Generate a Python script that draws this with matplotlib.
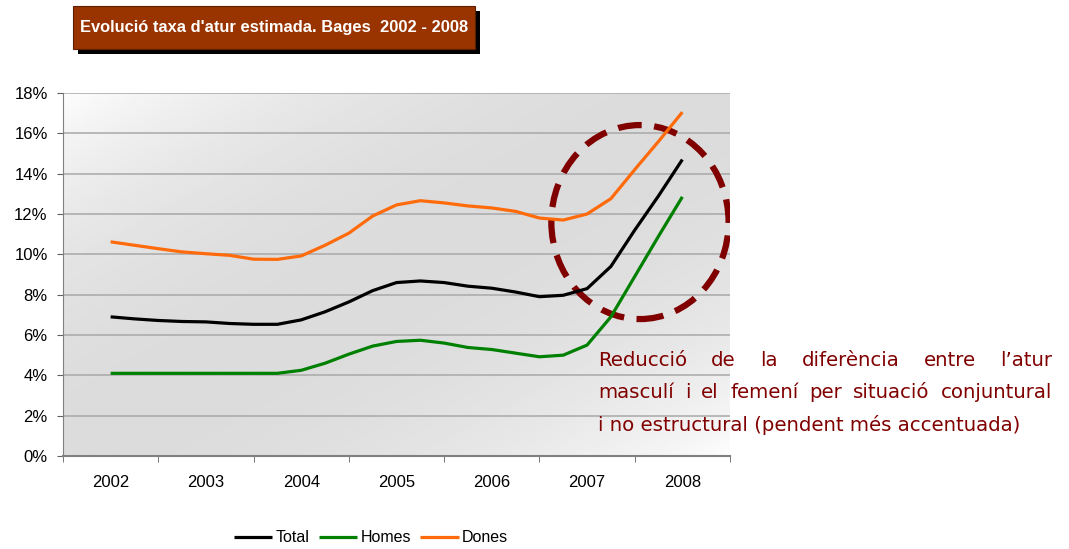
import numpy as np
import matplotlib.pyplot as plt
from matplotlib.patches import Ellipse, Rectangle
from matplotlib.colors import LinearSegmentedColormap

W, H = 1069, 549

years = [2002, 2003, 2004, 2005, 2006, 2007, 2008]
series_names = ['Total', 'Homes', 'Dones']
# quarterly estimates (%), 2002 -> 2008
total = [6.90, 6.80, 6.72, 6.67, 6.65, 6.57, 6.53, 6.53, 6.75, 7.15, 7.64, 8.20, 8.60,
         8.68, 8.60, 8.42, 8.32, 8.13, 7.90, 7.97, 8.30, 9.40, 11.20, 12.90, 14.70]
homes = [4.10, 4.10, 4.10, 4.10, 4.10, 4.10, 4.10, 4.10, 4.25, 4.60, 5.05, 5.45, 5.68,
         5.74, 5.60, 5.38, 5.28, 5.10, 4.92, 5.00, 5.50, 6.90, 8.90, 10.90, 12.85]
dones = [10.62, 10.45, 10.28, 10.12, 10.03, 9.95, 9.76, 9.75, 9.92, 10.45, 11.05, 11.90, 12.45,
         12.66, 12.55, 12.40, 12.30, 12.13, 11.80, 11.70, 12.00, 12.76, 14.20, 15.60, 17.05]

title = "Evolució taxa d'atur estimada. Bages  2002 - 2008"
note_lines = ["Reducció de la diferència entre l\u2019atur",
              "masculí i el femení  per situació conjuntural",
              "i no estructural (pendent més accentuada)"]

colors = ['#000000', '#008000', '#ff6a0a']
note_color = '#800000'

fig = plt.figure(figsize=(W / 100, H / 100), dpi=100)
ax = fig.add_axes([63 / W, 1 - 456 / H, (730 - 63) / W, (456 - 93) / H])

x = years[0] + np.arange(len(total)) / 4
x_lo, x_hi = years[0] - 0.5, years[-1] + 0.5

# diagonal background gradient: white top-left -> grey -> light bottom-right
u, v = np.meshgrid(np.linspace(0, 1, 300), np.linspace(0, 1, 200))
t = (u + v) / 2
grad = 1 - 0.14 * np.sin(np.pi * t) ** 0.7
cmap = LinearSegmentedColormap.from_list('g', ['#000000', '#ffffff'])
ax.imshow(grad, extent=(x_lo, x_hi, 0, 18), origin='upper', aspect='auto',
          cmap=cmap, vmin=0, vmax=1, zorder=0)

ax.add_patch(Ellipse((2007.555, 11.6), 1.86, 9.62, fill=False, ec=note_color,
                     lw=4.5, linestyle=(0, (3.8, 2.0)), zorder=3))

for vals, name, c in zip([total, homes, dones], series_names, colors):
    ax.plot(x, vals, color=c, lw=2.3, label=name, zorder=4, solid_capstyle='butt')

ax.set_xlim(x_lo, x_hi)
ax.set_ylim(0, 18)
ax.set_yticks(range(0, 19, 2))
ax.set_yticklabels([f'{v}%' for v in range(0, 19, 2)])
ax.set_xticks(years)
ax.set_xticklabels([str(y) for y in years])
ax.set_xticks(np.arange(x_lo, x_hi + 0.01, 1), minor=True)
ax.tick_params(axis='x', which='major', length=0, pad=14)
ax.tick_params(axis='x', which='minor', length=4, direction='out', color='#606060')
ax.tick_params(axis='y', length=4, direction='out', color='#606060', pad=7)
for lab in ax.get_xticklabels() + ax.get_yticklabels():
    lab.set_family('Liberation Sans')
    lab.set_fontsize(12)
ax.yaxis.grid(True, color='#a8a8a8', lw=1.1)
ax.set_axisbelow(True)
for s in ['top', 'right']:
    ax.spines[s].set_visible(False)
ax.spines['left'].set_color('#808080')
ax.spines['bottom'].set_color('#808080')
ax.spines['bottom'].set_linewidth(1.5)
ax.spines['bottom'].set_zorder(5)

# title box with shadow
bx, by, bw, bh = 73 / W, 1 - 49 / H, 402 / W, 43 / H
fig.patches.append(Rectangle((bx + 5 / W, by - 5 / H), bw, bh, transform=fig.transFigure,
                             fc='black', ec='none', zorder=1))
fig.patches.append(Rectangle((bx, by), bw, bh, transform=fig.transFigure,
                             fc='#993300', ec='#5a2000', lw=0.8, zorder=2))
fig.text(bx + bw / 2, by + bh / 2, title, ha='center', va='center', color='white',
         fontweight='bold', fontsize=11.9, family='Liberation Sans', zorder=3)

fig.legend(loc='center', bbox_to_anchor=(371 / W, 1 - 538 / H), ncol=3, frameon=False,
           handlelength=2.4, handletextpad=0.2, columnspacing=0.6,
           prop={'family': 'Liberation Sans', 'size': 11.5})

# justified note text
fig.canvas.draw()
r = fig.canvas.get_renderer()
x0, x1 = 598 / W, 1052 / W
note_kw = dict(color=note_color, fontsize=14.2, family='DejaVu Sans', va='center', ha='left')
for i, line in enumerate(note_lines):
    y = 1 - (361 + 32 * i) / H
    if i == len(note_lines) - 1:
        fig.text(x0, y, line, **note_kw)
        continue
    words = line.split()
    texts = [fig.text(0, y, w, **note_kw) for w in words]
    widths = [tx.get_window_extent(r).width / fig.bbox.width for tx in texts]
    gap = (x1 - x0 - sum(widths)) / (len(words) - 1)
    pos = x0
    for tx, w in zip(texts, widths):
        tx.set_x(pos)
        pos += w + gap

fig.savefig('out.png', dpi=100)
